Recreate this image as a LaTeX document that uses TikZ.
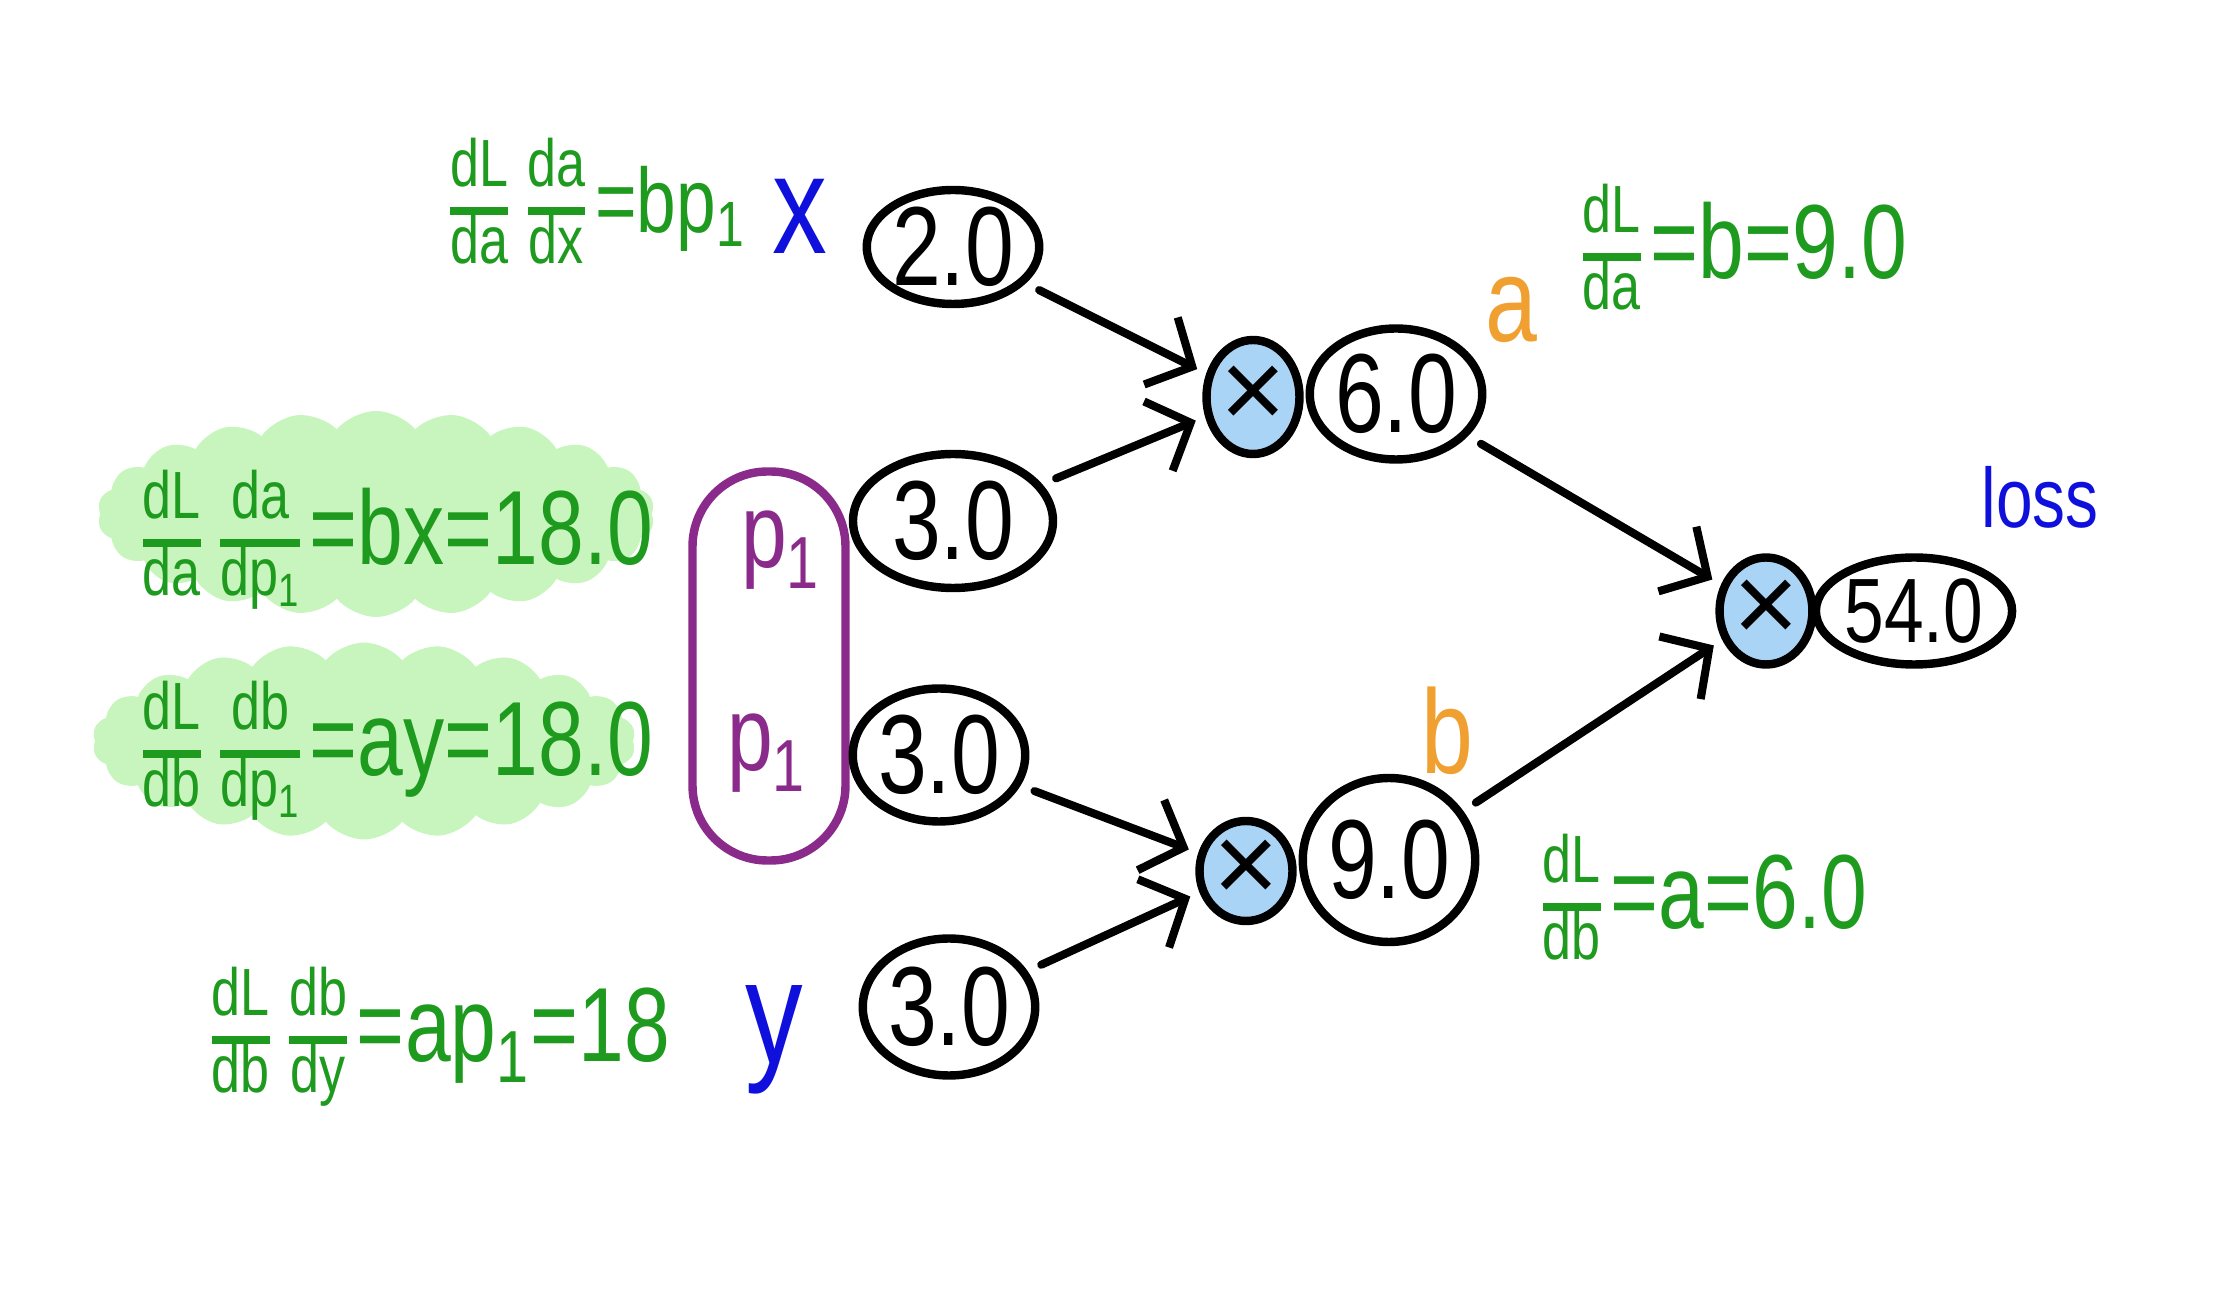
\documentclass[tikz,border=0pt]{standalone}
\usepackage{fontspec}
\setmainfont{Liberation Sans}
\newfontfamily\hand{Liberation Sans}[FakeStretch=0.78]
\usetikzlibrary{shapes.geometric,shapes.symbols,arrows.meta}
\definecolor{eqgreen}{HTML}{1E9A1E}
\definecolor{hlgreen}{HTML}{C8F5BE}
\definecolor{varblue}{HTML}{1010DD}
\definecolor{labor}{HTML}{F0A030}
\definecolor{ppurple}{HTML}{8A2A8A}
\definecolor{opblue}{HTML}{AAD4F5}
\newcommand\hfr[2]{\ensuremath{\mkern2mu\vcenter{\hbox{\hand\fontsize{19}{21}\selectfont\setlength\arrayrulewidth{2pt}\renewcommand\arraystretch{0.95}\begin{tabular}{@{}c@{}}#1\\\hline #2\end{tabular}}}\mkern2mu}}
\begin{document}
\begin{tikzpicture}[x=0.1mm,y=-0.1mm,
  val/.style={ellipse, draw, line width=2.4pt, inner sep=0pt, font=\hand\fontsize{32}{34}\selectfont},
  op/.style={ellipse, draw, fill=opblue, line width=2.4pt, inner sep=0pt, font=\fontsize{32}{34}\selectfont},
  conn/.style={line width=2.3pt, line cap=round, shorten <=1.5mm, shorten >=1mm, -{Straight Barb[length=3.5mm,width=7.5mm,line width=2.3pt]}},
  eq/.style={text=eqgreen, font=\hand\fontsize{26}{28}\selectfont, inner sep=0pt},
  varlab/.style={font=\hand\fontsize{34}{36}\selectfont, inner sep=0pt},
  blob/.style={cloud, cloud puffs=22, cloud puff arc=100, cloud ignores aspect, fill=hlgreen, draw=none, inner sep=0pt}
]
\useasboundingbox (0,0) rectangle (2240,1290);

% highlight blobs
\node[blob, minimum width=55.7mm, minimum height=20.6mm] (hl1) at (376,514) {};
\node[blob, minimum width=54.3mm, minimum height=19.7mm] (hl2) at (364,741) {};

% purple group
\node[draw=ppurple, line width=2.4pt, rounded corners=7.5mm, minimum width=15.3mm, minimum height=38.9mm] (grp) at (769,666) {};
\node[varlab, text=ppurple, font=\hand\fontsize{30}{32}\selectfont] (p1a) at (781,550) {p\textsubscript{1}};
\node[varlab, text=ppurple, font=\hand\fontsize{30}{32}\selectfont] (p1b) at (767,753) {p\textsubscript{1}};

% value nodes
\node[val, minimum width=17.1mm, minimum height=11.4mm] (v2) at (953,247) {2.0};
\node[val, minimum width=20mm, minimum height=13.4mm] (v3a) at (953,521) {3.0};
\node[val, minimum width=17mm, minimum height=13.3mm] (v3b) at (939,755) {3.0};
\node[val, minimum width=15.4mm, minimum height=13.7mm] (v3y) at (949,1007) {3.0};
\node[op, minimum width=9.3mm, minimum height=11.4mm] (op1) at (1253,397) {×};
\node[val, minimum width=17.1mm, minimum height=13.1mm] (v6) at (1396,394) {6.0};
\node[op, minimum width=9.3mm, minimum height=10mm] (op2) at (1246,871) {×};
\node[val, minimum width=16.4mm, minimum height=16.4mm] (v9) at (1389,860) {9.0};
\node[op, minimum width=8.3mm, minimum height=10.7mm] (op3) at (1766,611) {×};
\node[val, minimum width=18.6mm, minimum height=10.7mm, font=\hand\fontsize{26}{28}\selectfont] (v54) at (1914,611) {54.0};

% labels
\node[varlab, text=varblue, font=\hand\fontsize{40}{42}\selectfont] (lx) at (800,216) {x};
\node[varlab, text=varblue, font=\hand\fontsize{42}{44}\selectfont] (ly) at (774,1040) {y};
\node[varlab, text=labor] (la) at (1511,310) {a};
\node[varlab, text=labor] (lb) at (1447,731) {b};
\node[varlab, text=varblue, font=\hand\fontsize{24}{26}\selectfont] (lloss) at (2040,497) {loss};

% connectors
\draw[conn] (v2) -- (op1);
\draw[conn] (v3a) -- (op1);
\draw[conn] (v3b) -- (op2);
\draw[conn] (v3y) -- (op2);
\draw[conn] (v6) -- (op3);
\draw[conn] (v9) -- (op3);

% equations
\node[eq] (eqx) at (593,211) {\hfr{dL}{da}\hfr{da}{dx}=bp\textsubscript{1}};
\node[eq, font=\hand\fontsize{30}{32}\selectfont] (eqp1a) at (393,543) {\hfr{dL}{da}\hfr{da}{dp\textsubscript{1}}=bx=18.0};
\node[eq, font=\hand\fontsize{30}{32}\selectfont] (eqp1b) at (393,754) {\hfr{dL}{db}\hfr{db}{dp\textsubscript{1}}=ay=18.0};
\node[eq, font=\hand\fontsize{30}{32}\selectfont] (eqy) at (436,1040) {\hfr{dL}{db}\hfr{db}{dy}=ap\textsubscript{1}=18};
\node[eq, font=\hand\fontsize{30}{32}\selectfont] (eqa) at (1740,257) {\hfr{dL}{da}=b=9.0};
\node[eq, font=\hand\fontsize{30}{32}\selectfont] (eqb) at (1700,907) {\hfr{dL}{db}=a=6.0};
\end{tikzpicture}
\end{document}
